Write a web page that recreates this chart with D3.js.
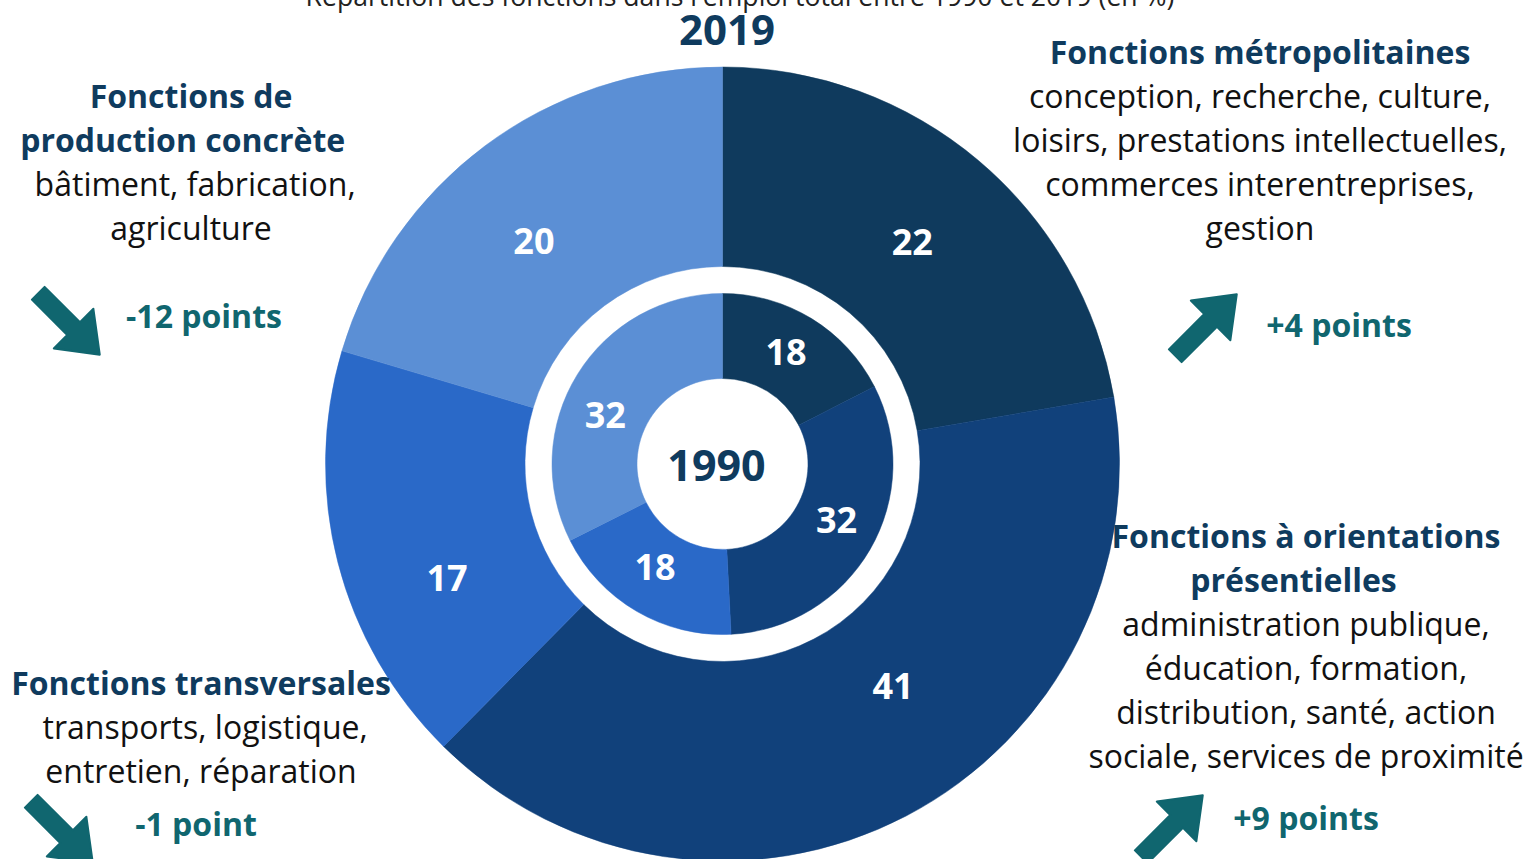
<!DOCTYPE html>
<html>
<head>
<meta charset="utf-8">
<script src="https://cdn.jsdelivr.net/npm/d3@7"></script>
<style>
  body { margin: 0; background: #fff; }
  svg { display: block; font-family: "Open Sans", sans-serif; }
</style>
</head>
<body>
<div id="viz"></div>
<script>
// categories, clockwise from 12 o'clock
const categories = ["metropolitaines", "presentielles", "transversales", "production"];
const colors = ["#0f3a5d", "#11417b", "#2a69c8", "#5b8fd5"];

// shares (%), and the rounded labels printed on them
const share1990 = [17.5, 31.7, 18.4, 32.4];
const label1990 = [18, 32, 18, 32];
const share2019 = [22.3, 40.1, 17.2, 20.4];
const label2019 = [22, 41, 17, 20];

const evolution = ["+4 points", "+9 points", "-1 point", "-12 points"];

const headings = [
    ["Fonctions métropolitaines"],
    ["Fonctions à orientations", "présentielles\u00a0\u00a0\u00a0"],
    ["Fonctions transversales"],
    ["Fonctions de", "production concrète\u00a0\u00a0"]
];
const details = [
    ["conception, recherche, culture,", "loisirs, prestations intellectuelles,", "commerces interentreprises,", "gestion"],
    ["administration publique,", "éducation, formation,", "distribution, santé, action", "sociale, services de proximité"],
    ["\u00a0transports, logistique,", "entretien, réparation"],
    ["\u00a0bâtiment, fabrication,", "agriculture"]
];

const width = 1526, height = 859;
const cx = 722.5, cy = 464;
const navy = "#0f3b5e", teal = "#10666f";

const svg = d3.select("#viz").append("svg")
    .attr("width", width)
    .attr("height", height);

svg.append("text")
    .attr("x", 740).attr("y", 6)
    .attr("text-anchor", "middle")
    .attr("font-size", 26.6)
    .attr("fill", "#222")
    .text("Répartition des fonctions dans l'emploi total entre 1990 et 2019 (en %)");

svg.append("text")
    .attr("x", 727).attr("y", 45)
    .attr("text-anchor", "middle")
    .attr("font-size", 42)
    .attr("font-weight", 700)
    .attr("fill", navy)
    .text("2019");

const pie = d3.pie().sort(null).value(d => d);

// label placement: base radius, per-slice angle shift (deg) and radius nudge
const rings = [
    {shares: share2019, labels: label2019, r0: 197.5, r1: 397, lr: 292, shift: [0.4, -10, -8, -3.5], dr: [0, -12, 6, 0]},
    {shares: share1990, labels: label1990, r0: 85.5, r1: 170.5, lr: 127, shift: [-2, -4, 3, -9], dr: [2, 0, -4, 0]}
];

const g = svg.append("g").attr("transform", `translate(${cx},${cy})`);

rings.forEach(ring => {
    const arc = d3.arc().innerRadius(ring.r0).outerRadius(ring.r1);
    const arcs = pie(ring.shares);

    g.append("g").selectAll("path")
        .data(arcs)
        .join("path")
            .attr("d", arc)
            .attr("fill", (d, i) => colors[i])
            .attr("stroke", (d, i) => colors[i])
            .attr("stroke-width", 0.5);

    g.append("g").selectAll("text")
        .data(arcs)
        .join("text")
            .attr("transform", (d, i) => {
                const a = (d.startAngle + d.endAngle) / 2 + ring.shift[i] * Math.PI / 180;
                const r = ring.lr + ring.dr[i];
                return `translate(${r * Math.sin(a)},${-r * Math.cos(a)})`;
            })
            .attr("text-anchor", "middle")
            .attr("dy", "0.36em")
            .attr("font-size", 36)
            .attr("font-weight", 700)
            .attr("fill", "#fff")
            .text((d, i) => ring.labels[i]);
});

g.append("text")
    .attr("x", -6).attr("y", 2)
    .attr("dy", "0.36em")
    .attr("text-anchor", "middle")
    .attr("font-size", 43)
    .attr("font-weight", 700)
    .attr("fill", navy)
    .text("1990");

// annotation blocks: centre x, first baseline
const blocks = [
    {x: 1260, y: 64, ax: 1206, ay: 325, rot: -45, px: 1339, py: 337},
    {x: 1306, y: 548, ax: 1172, ay: 826, rot: -45, px: 1306, py: 830},
    {x: 201, y: 695, ax: 62, ay: 832, rot: 45, px: 196, py: 836},
    {x: 191, y: 108, ax: 69, ay: 324, rot: 45, px: 204, py: 328}
];
const lineH = 44;

const arrowPath = "M-43.5,-9 L6.5,-9 L6.5,-28 L43.5,0 L6.5,28 L6.5,9 L-43.5,9 Z";

blocks.forEach((b, i) => {
    const lines = headings[i].map(t => ({t, bold: true})).concat(details[i].map(t => ({t, bold: false})));
    svg.append("g").selectAll("text")
        .data(lines)
        .join("text")
            .attr("x", b.x)
            .attr("y", (d, j) => b.y + j * lineH)
            .attr("text-anchor", "middle")
            .attr("font-size", 32)
            .attr("font-weight", d => d.bold ? 700 : 400)
            .attr("fill", d => d.bold ? navy : "#111")
            .text(d => d.t);

    svg.append("path")
        .attr("d", arrowPath)
        .attr("transform", `translate(${b.ax},${b.ay}) rotate(${b.rot})`)
        .attr("fill", teal)
        .attr("stroke", teal)
        .attr("stroke-width", 2)
        .attr("stroke-linejoin", "round");

    svg.append("text")
        .attr("x", b.px).attr("y", b.py)
        .attr("text-anchor", "middle")
        .attr("font-size", 32)
        .attr("font-weight", 700)
        .attr("fill", teal)
        .text(evolution[i]);
});
</script>
</body>
</html>
